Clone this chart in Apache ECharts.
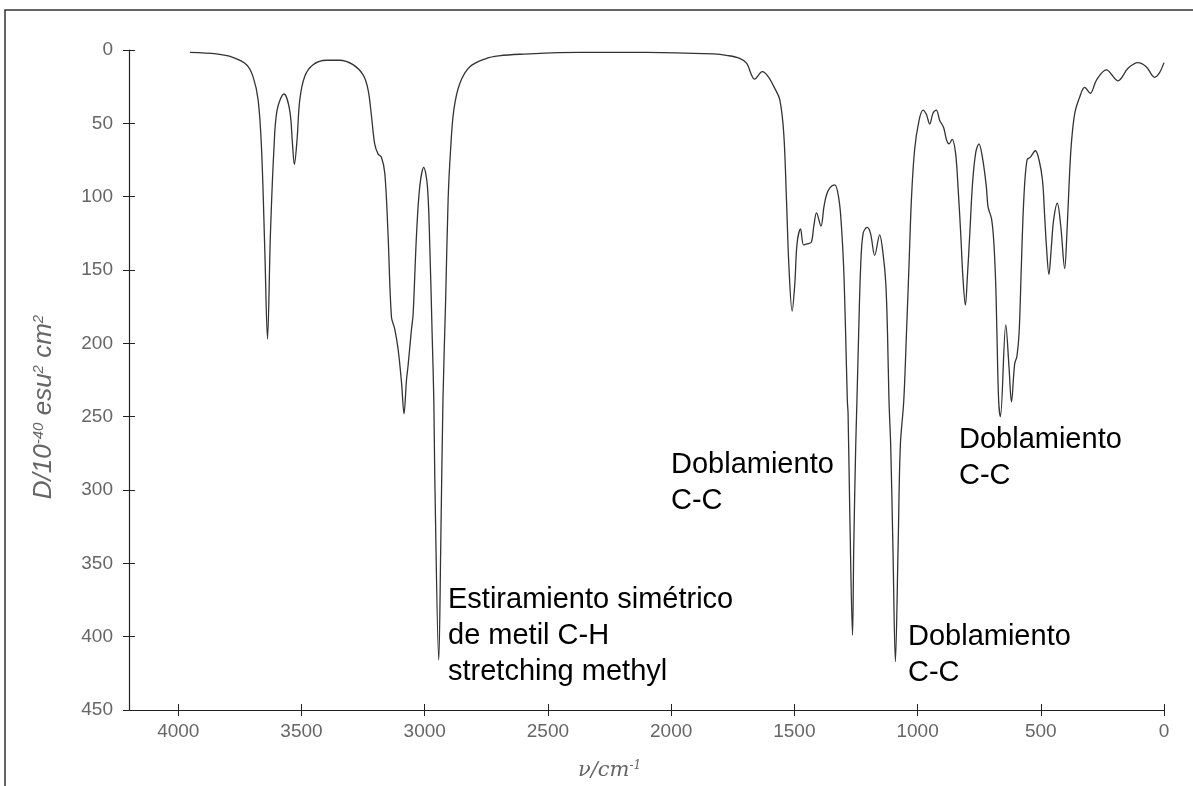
<!DOCTYPE html>
<html>
<head>
<meta charset="utf-8">
<script src="https://cdn.jsdelivr.net/npm/echarts@6/dist/echarts.min.js"></script>
<style>
  html, body { margin: 0; padding: 0; background: #fff; }
  #chart { width: 1193px; height: 786px; }
</style>
</head>
<body>
<div id="chart"></div>
<script>
// numero de onda (cm-1)
const waveNumber = [
  3953, 3845, 3779, 3723, 3697, 3676, 3662, 3649, 3638, 3626, 3612, 3599, 3571, 3548, 3537, 3529,
  3518, 3507, 3487, 3453, 3399, 3345, 3291, 3250, 3230, 3216, 3203, 3189, 3176, 3162, 3149, 3135,
  3122, 3108, 3094, 3084, 3074, 3068, 3054, 3047, 3033, 3020, 3004, 2989, 2979, 2970, 2963, 2959,
  2943, 2935, 2926, 2915, 2905, 2895, 2882, 2858, 2817, 2749, 2700, 2614, 2371, 2100, 1830, 1770,
  1722, 1694, 1661, 1630, 1607, 1580, 1559, 1543, 1532, 1522, 1509, 1498, 1489, 1475, 1462, 1445,
  1431, 1421, 1410, 1392, 1380, 1370, 1356, 1336, 1319, 1309, 1300, 1292, 1285, 1282, 1275, 1264,
  1259, 1251, 1246, 1239, 1231, 1221, 1205, 1191, 1174, 1154, 1140, 1129, 1122, 1116, 1109, 1100,
  1090, 1079, 1070, 1056, 1045, 1035, 1025, 1012, 994, 978, 964, 951, 937, 924, 910, 894,
  883, 872, 860, 846, 836, 825, 816, 806, 798, 788, 777, 764, 751, 737, 721, 714,
  700, 691, 683, 678, 671, 664, 642, 629, 619, 606, 597, 588, 579, 569, 556, 542,
  522, 507, 493, 484, 477, 467, 457, 448, 433, 419, 403, 394, 385, 376, 362, 342,
  322, 299, 274, 234, 187, 146, 106, 72, 38, 20, 0
]
// D / 10^-40 esu^2 cm^2
const dipole = [
  1.6, 2.7, 5, 10, 18, 34, 68, 136, 197, 125, 68, 41, 30, 41, 63, 78,
  61, 34, 18, 10, 7, 7, 10, 17, 27, 45, 64, 71, 73, 84, 125, 182,
  190, 204, 227, 248, 225, 216, 191, 180, 125, 93, 80, 93, 136, 193, 239, 293,
  416, 339, 239, 170, 102, 68, 41, 23, 11.4, 5.7, 4, 2.9, 1.6, 1.6, 2.7, 3.8,
  5.7, 9, 19.8, 14.8, 18, 26, 34, 57, 102, 148, 178, 159, 132, 122, 133, 132,
  131, 120, 111, 120, 107, 99, 94, 92, 102, 120, 148, 193, 239, 248, 316, 399,
  339, 270, 239, 193, 148, 125, 121, 125, 140, 126, 139, 159, 193, 239, 270, 339,
  417, 339, 270, 239, 193, 148, 102, 68, 48, 41, 44, 50.5, 43, 41, 48, 53,
  61, 64, 61, 70, 93, 125, 155, 174, 155, 125, 91, 70, 64, 73, 93, 107,
  115, 130, 159, 193, 239, 250, 187.5, 216, 240, 214, 209, 193, 148, 102, 75, 73,
  68.7, 75, 89, 114, 134, 153, 134, 116, 104.5, 120, 149, 125, 91, 64, 43, 32,
  25.5, 29.5, 20.5, 13.6, 21, 12.5, 8.6, 11.4, 18.6, 16, 8.6
]
const xTicks = [4000, 3500, 3000, 2500, 2000, 1500, 1000, 500, 0]
const yTicks = [0, 50, 100, 150, 200, 250, 300, 350, 400, 450]
const notes = [
  'Estiramiento simétrico\nde metil C-H\nstretching methyl',
  'Doblamiento\nC-C',
  'Doblamiento\nC-C',
  'Doblamiento\nC-C'
]

const labelStyle = { // etiquetas de los ejes
  color: '#666',
  fontSize: 19,
  fontFamily: 'Liberation Sans',
  formatter: (v) => String(v) // sin separador de miles
}

function setSpectrumOption() {
  return {
    animation: false,
    backgroundColor: '#fff',
    grid: {
      left: 129,
      right: 29,
      top: 50,
      bottom: 76,
      containLabel: false,
      outerBoundsMode: 'none'
    },
    xAxis: [{
        type: 'value',
        min: 0,
        max: 4200,
        inverse: true, // eje invertido
        position: 'bottom',
        name: 'ν/cm{sup|-1}',
        nameLocation: 'middle',
        nameGap: 50,
        nameMoveOverlap: false,
        nameTextStyle: {
          color: '#666',
          fontSize: 21,
          fontStyle: 'italic',
          fontFamily: 'DejaVu Serif',
          padding: [0, 74, 0, 0],
          rich: {
            sup: { fontSize: 12, fontStyle: 'italic', fontFamily: 'DejaVu Serif', color: '#666', verticalAlign: 'top' }
          }
        },
        axisLine: { show: true, onZero: false, lineStyle: { color: '#222', width: 1.2 } },
        axisTick: { show: true, length: 6, customValues: xTicks, lineStyle: { color: '#222', width: 1 } },
        axisLabel: Object.assign({ margin: 12, customValues: xTicks }, labelStyle),
        splitLine: { show: false }
      },
      { // marcas hacia adentro (cruzan el eje)
        type: 'value',
        min: 0,
        max: 4200,
        inverse: true,
        position: 'bottom',
        axisLine: { show: true, onZero: false, lineStyle: { opacity: 0 } },
        axisTick: { show: true, inside: true, length: 6, customValues: xTicks, lineStyle: { color: '#222', width: 1 } },
        axisLabel: { show: false },
        splitLine: { show: false }
      }
    ],
    yAxis: [{
        type: 'value',
        min: 0,
        max: 450,
        inverse: true,
        position: 'left',
        name: 'D/10{sup|-40} esu{sup|2} cm{sup|2}',
        nameLocation: 'middle',
        nameGap: 72,
        nameMoveOverlap: false,
        nameTextStyle: {
          color: '#666',
          fontSize: 26,
          fontStyle: 'italic',
          fontFamily: 'Liberation Sans',
          padding: [0, 54, 0, 0],
          rich: {
            sup: { fontSize: 15, fontStyle: 'italic', fontFamily: 'Liberation Sans', color: '#666', verticalAlign: 'top' }
          }
        },
        axisLine: { show: true, onZero: false, lineStyle: { color: '#222', width: 1.2 } },
        axisTick: { show: true, length: 6, customValues: yTicks, lineStyle: { color: '#222', width: 1 } },
        axisLabel: Object.assign({ margin: 16, customValues: yTicks }, labelStyle),
        splitLine: { show: false }
      },
      {
        type: 'value',
        min: 0,
        max: 450,
        inverse: true,
        position: 'left',
        axisLine: { show: true, onZero: false, lineStyle: { opacity: 0 } },
        axisTick: { show: true, inside: true, length: 6, customValues: yTicks, lineStyle: { color: '#222', width: 1 } },
        axisLabel: { show: false },
        splitLine: { show: false }
      }
    ],
    series: [{
      type: 'line',
      xAxisIndex: 0,
      yAxisIndex: 0,
      data: waveNumber.map((v, i) => [v, dipole[i]]),
      symbol: 'none',
      smooth: 0.35, // curva suave
      lineStyle: { color: '#333', width: 1.3 }
    }],
    graphic: [
      { // marco de la imagen
        type: 'polyline',
        silent: true,
        shape: { points: [[5, 786], [5, 10], [1193, 10]] },
        style: { stroke: '#333', lineWidth: 1.5, fill: null }
      },
      { type: 'text', left: 448, top: 582, style: { text: notes[0], fontSize: 29, fontFamily: 'Liberation Sans', lineHeight: 36, fill: '#000' } },
      { type: 'text', left: 671, top: 447, style: { text: notes[1], fontSize: 29, fontFamily: 'Liberation Sans', lineHeight: 36, fill: '#000' } },
      { type: 'text', left: 908, top: 619, style: { text: notes[2], fontSize: 29, fontFamily: 'Liberation Sans', lineHeight: 36, fill: '#000' } },
      { type: 'text', left: 959, top: 422, style: { text: notes[3], fontSize: 29, fontFamily: 'Liberation Sans', lineHeight: 36, fill: '#000' } }
    ]
  }
}

const chart = echarts.init(document.getElementById('chart'), null, { renderer: 'canvas' })
chart.setOption(setSpectrumOption())
</script>
</body>
</html>
